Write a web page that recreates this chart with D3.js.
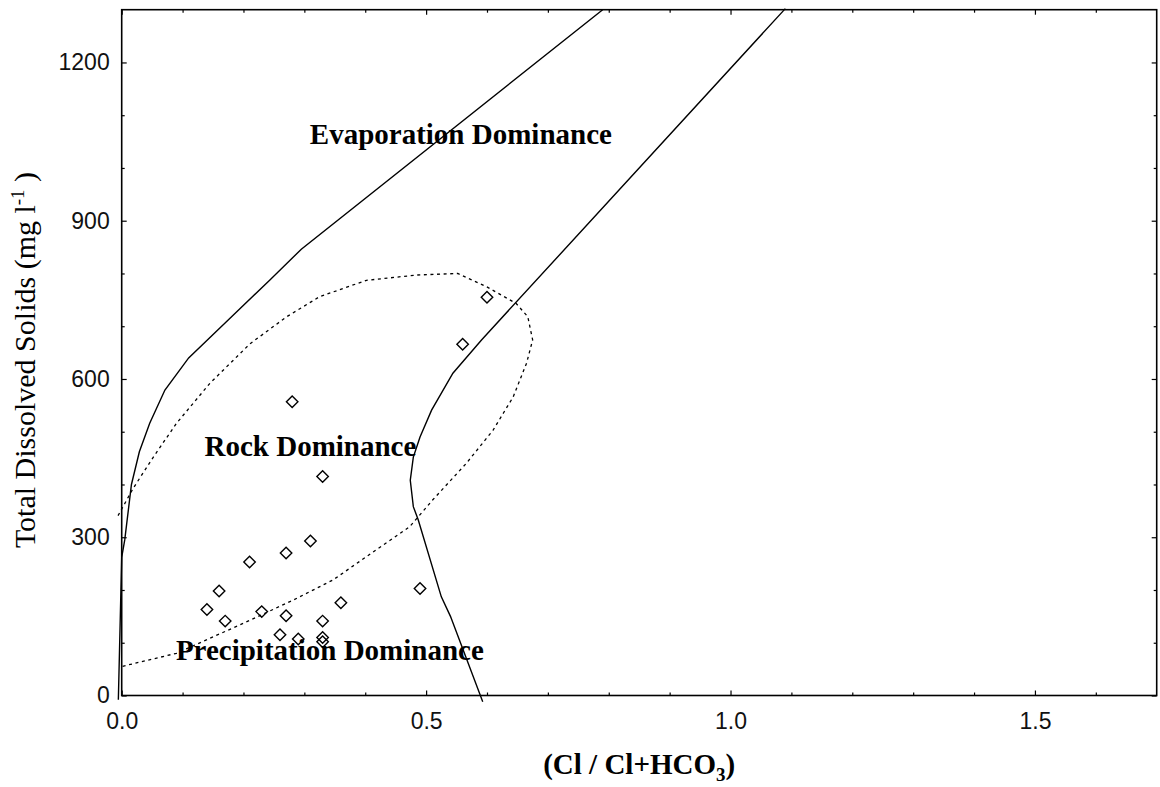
<!DOCTYPE html>
<html>
<head>
<meta charset="utf-8">
<script src="https://cdn.jsdelivr.net/npm/d3@7"></script>
<style>
  html, body { margin: 0; padding: 0; background: #fff; }
  svg { display: block; }
</style>
</head>
<body>
<svg id="chart" width="1160" height="787"></svg>
<script>
// Gibbs diagram: TDS against Cl / (Cl + HCO3)

// Sample points
const sampleRatio = [0.31, 0.27, 0.21, 0.16, 0.14, 0.17, 0.23, 0.27, 0.33, 0.36,
                     0.26, 0.29, 0.33, 0.33, 0.49, 0.28, 0.33, 0.56, 0.60];
const sampleTDS   = [293, 270, 253, 198, 163, 141, 159, 151, 141, 176,
                     115, 107, 110, 102, 203, 557, 415, 666, 755];

// Left (upper) boundary of the Gibbs envelope
const upperBoundaryX = [-0.0055, 0.0, 0.005, 0.016, 0.029, 0.046, 0.071, 0.11, 0.183, 0.243, 0.295, 0.79];
const upperBoundaryY = [-8, 262, 295, 400, 462, 516, 579, 640, 721, 787, 846, 1300];

// Right (lower) boundary of the Gibbs envelope
const lowerBoundaryX = [0.593, 0.54, 0.525, 0.487, 0.479, 0.474, 0.479, 0.49, 0.509, 0.544, 0.591, 1.09];
const lowerBoundaryY = [-12, 150, 187, 333, 358, 408, 452, 490, 541, 611, 674, 1302];

// Dotted rock-dominance envelope
const envelopeX = [-0.006, 0.019, 0.052, 0.090, 0.145, 0.211, 0.271, 0.325, 0.402, 0.484, 0.552,
                   0.599, 0.648, 0.667, 0.675, 0.665, 0.643, 0.610, 0.566, 0.511, 0.473, 0.418,
                   0.347, 0.282, 0.200, 0.090, 0.0];
const envelopeY = [341, 393, 452, 516, 592, 667, 718, 756, 787, 797, 800,
                   775, 743, 718, 674, 630, 566, 503, 440, 371, 320, 276,
                   219, 181, 137, 80, 55];

// Axis ticks
const xMajorTicks = [0.0, 0.5, 1.0, 1.5];
const xMinorTicks = [0.1, 0.2, 0.3, 0.4, 0.6, 0.7, 0.8, 0.9, 1.1, 1.2, 1.3, 1.4, 1.6];
const yMajorTicks = [0, 300, 600, 900, 1200];
const yMinorTicks = [100, 200, 400, 500, 700, 800, 1000, 1100];

// Region labels
const regionLabels = ["Evaporation Dominance", "Rock Dominance", "Precipitation Dominance"];
const regionLabelX = [0.309, 0.136, 0.089];
const regionLabelY = [1045, 454, 67];

const svg = d3.select("#chart");
const plot = { left: 121.7, right: 1156.7, top: 9.7, bottom: 695.5 };

const x = d3.scaleLinear().domain([0, 1.7]).range([plot.left, plot.right]);
const y = d3.scaleLinear().domain([0, 1300]).range([plot.bottom, plot.top]);

const sansFont = "'Liberation Sans', Arial, sans-serif";
const serifFont = "'Liberation Serif', 'Times New Roman', serif";

// ---- axes (ticks point inward on all four sides) ----
function styleAxis(g) {
  g.select(".domain").remove();
  g.selectAll(".tick line").attr("stroke", "#000").attr("stroke-width", 1.2);
  g.selectAll(".tick text").attr("fill", "#111").style("font-family", sansFont).style("font-size", "23px");
}

svg.append("g").attr("transform", `translate(0,${plot.bottom})`)
  .call(d3.axisBottom(x).tickValues(xMajorTicks).tickSize(-5).tickSizeOuter(0)
        .tickPadding(17).tickFormat(d3.format(".1f")))
  .call(styleAxis);
svg.append("g").attr("transform", `translate(0,${plot.bottom})`)
  .call(d3.axisBottom(x).tickValues(xMinorTicks).tickSize(-3).tickSizeOuter(0).tickFormat(""))
  .call(styleAxis);
svg.append("g").attr("transform", `translate(0,${plot.top})`)
  .call(d3.axisTop(x).tickValues(xMajorTicks).tickSize(-5).tickSizeOuter(0).tickFormat(""))
  .call(styleAxis);
svg.append("g").attr("transform", `translate(0,${plot.top})`)
  .call(d3.axisTop(x).tickValues(xMinorTicks).tickSize(-3).tickSizeOuter(0).tickFormat(""))
  .call(styleAxis);

svg.append("g").attr("transform", `translate(${plot.left},0)`)
  .call(d3.axisLeft(y).tickValues(yMajorTicks).tickSize(-5).tickSizeOuter(0)
        .tickPadding(12).tickFormat(d3.format("d")))
  .call(styleAxis);
svg.append("g").attr("transform", `translate(${plot.left},0)`)
  .call(d3.axisLeft(y).tickValues(yMinorTicks).tickSize(-3).tickSizeOuter(0).tickFormat(""))
  .call(styleAxis);
svg.append("g").attr("transform", `translate(${plot.right},0)`)
  .call(d3.axisRight(y).tickValues(yMajorTicks).tickSize(-5).tickSizeOuter(0).tickFormat(""))
  .call(styleAxis);
svg.append("g").attr("transform", `translate(${plot.right},0)`)
  .call(d3.axisRight(y).tickValues(yMinorTicks).tickSize(-3).tickSizeOuter(0).tickFormat(""))
  .call(styleAxis);

// plot frame
svg.append("rect")
  .attr("x", plot.left).attr("y", plot.top)
  .attr("width", plot.right - plot.left).attr("height", plot.bottom - plot.top)
  .attr("fill", "none").attr("stroke", "#000").attr("stroke-width", 1.6);

// ---- boundary curves ----
const line = d3.line().x(d => x(d[0])).y(d => y(d[1])).curve(d3.curveLinear);
const zip = (xs, ys) => xs.map((v, i) => [v, ys[i]]);

svg.append("path").datum(zip(upperBoundaryX, upperBoundaryY))
  .attr("d", line).attr("fill", "none").attr("stroke", "#000").attr("stroke-width", 1.4);
svg.append("path").datum(zip(lowerBoundaryX, lowerBoundaryY))
  .attr("d", line).attr("fill", "none").attr("stroke", "#000").attr("stroke-width", 1.4);
svg.append("path").datum(zip(envelopeX, envelopeY))
  .attr("d", line).attr("fill", "none").attr("stroke", "#000").attr("stroke-width", 1.3)
  .attr("stroke-dasharray", "3,3.6");

// ---- sample points (open diamonds) ----
const diamond = d3.symbol().type(d3.symbolDiamond2).size(84);
svg.append("g").selectAll("path").data(zip(sampleRatio, sampleTDS)).join("path")
  .attr("transform", d => `translate(${x(d[0])},${y(d[1])})`)
  .attr("d", diamond)
  .attr("fill", "none").attr("stroke", "#000").attr("stroke-width", 1.4);

// ---- region labels ----
svg.append("g").selectAll("text").data(regionLabels).join("text")
  .attr("x", (d, i) => x(regionLabelX[i]))
  .attr("y", (d, i) => y(regionLabelY[i]))
  .style("font-family", serifFont).style("font-size", "29px").style("font-weight", "bold")
  .attr("fill", "#000")
  .text(d => d);

// ---- axis titles ----
const xTitle = svg.append("text")
  .attr("x", (plot.left + plot.right) / 2).attr("y", 774)
  .attr("text-anchor", "middle")
  .style("font-family", serifFont).style("font-size", "29px").style("font-weight", "bold")
  .attr("fill", "#000");
xTitle.append("tspan").text("(Cl / Cl+HCO");
xTitle.append("tspan").attr("dy", 7).style("font-size", "19px").text("3");
xTitle.append("tspan").attr("dy", -7).text(")");

const yTitle = svg.append("text")
  .attr("transform", `translate(35,${360}) rotate(-90)`)
  .attr("text-anchor", "middle")
  .style("font-family", serifFont).style("font-size", "30px")
  .attr("fill", "#000");
yTitle.append("tspan").text("Total Dissolved Solids (mg l");
yTitle.append("tspan").attr("dy", -11).style("font-size", "19px").text("-1");
yTitle.append("tspan").attr("dy", 11).text(" )");
</script>
</body>
</html>
